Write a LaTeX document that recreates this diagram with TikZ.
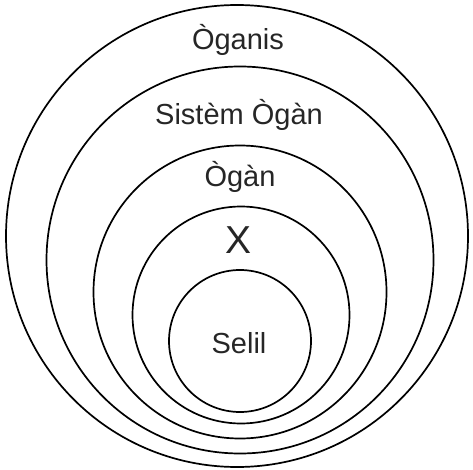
\documentclass[tikz,border=0pt]{standalone}
\usepackage{fontspec}
\setmainfont{Liberation Sans}
\usetikzlibrary{positioning}

\begin{document}
\begin{tikzpicture}[
  x=1pt, y=-1pt,
  ring/.style={
    circle, draw=black, line width=1.7pt, inner sep=0pt
  },
  label/.style={
    anchor=base, inner sep=0pt, text=black!85,
    font=\fontsize{29}{31}\selectfont
  },
  biglabel/.style={
    anchor=base, inner sep=0pt, text=black!85,
    font=\fontsize{39}{40}\selectfont
  },
]
\useasboundingbox (0,0) rectangle (473,470);

%% ── Nested levels ────────────────────────────────────────────────────────────
\node[ring, minimum size=462pt] (organism) at (237, 236) {};
\node[ring, minimum size=387pt] (system)   at (240, 260) {};
\node[ring, minimum size=293pt] (organ)    at (240, 292) {};
\node[ring, minimum size=217pt] (tissue)   at (241, 315) {};
\node[ring, minimum size=142pt] (cell)     at (240, 341) {};

%% ── Level names ──────────────────────────────────────────────────────────────
\node[label]    (organismtext) at (238, 50)  {Òganis};
\node[label]    (systemtext)   at (239, 125) {Sistèm Ògàn};
\node[label]    (organtext)    at (240, 187) {Ògàn};
\node[biglabel] (tissuetext)   at (239, 253) {X};
\node[label]    (celltext)     at (239, 353) {Selil};

\end{tikzpicture}
\end{document}
